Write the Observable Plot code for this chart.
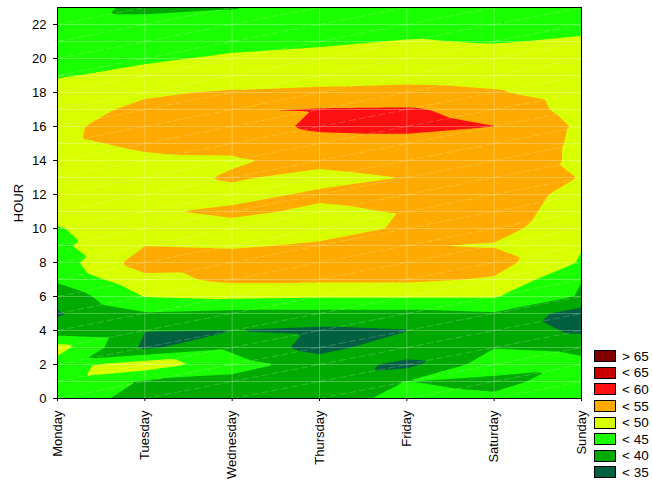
<!DOCTYPE html>
<html><head><meta charset="utf-8">
<script src="https://cdn.jsdelivr.net/npm/d3@7"></script>
<script src="https://cdn.jsdelivr.net/npm/@observablehq/plot@0.6"></script>
<style>
body{margin:0;background:#fff;font-family:"Liberation Sans",Arial,sans-serif;}
#wrap{position:relative;width:652px;height:481px;overflow:hidden;}
#legend{position:absolute;left:594px;top:348px;}
.row{display:flex;align-items:center;height:16.6px;}
.sw{width:20px;height:10px;border:1px solid #000;}
.lab{margin-left:6px;font-size:13.5px;line-height:13px;color:#000;white-space:pre;}
</style></head><body><div id="wrap"></div>
<script>
const days = ["Monday","Tuesday","Wednesday","Thursday","Friday","Saturday","Sunday"];
const hours = [0,1,2,3,4,5,6,7,8,9,10,11,12,13,14,15,16,17,18,19,20,21,22,23];
const yTicks = [0,2,4,6,8,10,12,14,16,18,20,22];

const monday    = [43, 43.5, 43, 47, 37, 34.5, 36.5, 41, 42.5, 44, 44.7, 46.5, 47.5, 48, 48.5, 49.4, 49.3, 48.5, 46.5, 44.7, 44, 43.5, 43, 44];
const tuesday   = [38, 39.5, 48, 34, 35.1, 39.5, 45.2, 48.5, 52.5, 49.9, 48, 49.6, 48, 48.5, 49.5, 50.5, 51.5, 50.8, 49.5, 46, 44.5, 43.5, 43, 38];
const wednesday = [38, 38.5, 42, 39, 34.9, 38.5, 46, 51, 52, 49.5, 49, 50.6, 49, 50.4, 49.6, 51, 52.5, 54.9, 50.4, 48, 45.5, 44, 43.5, 39.5];
const thursday  = [37, 37.5, 38, 33, 34, 38.5, 45.5, 51, 52, 50.5, 48.5, 49.5, 50.5, 49, 51, 53, 56, 55.3, 51, 48, 46, 44.5, 43.5, 43];
const friday    = [42, 40.1, 33.5, 38.5, 34.8, 38.5, 45.5, 51, 52, 50.2, 50.5, 50.2, 51, 50.1, 52, 53, 56.5, 55.5, 51.5, 48.3, 46.5, 45.2, 43.5, 43.5];
const saturday  = [41, 38.5, 43, 39.8, 38, 39.5, 45.5, 49.5, 52, 49.7, 51.5, 52, 52.5, 53, 53.5, 54, 55.05, 53.5, 50.5, 48, 46.5, 44.8, 44, 43.5];
const sunday    = [42, 42.5, 41, 39, 34, 32.5, 39.5, 40.1, 44.5, 45.3, 47, 48, 48.5, 49.8, 49, 49, 49.2, 48, 47.5, 46.5, 46, 45.4, 44.2, 43.5];
const series = [monday, tuesday, wednesday, thursday, friday, saturday, sunday];

const bandThresholds = [35, 40, 45, 50, 55, 60, 65];
const bandColors = ["#006040", "#00aa00", "#1aff00", "#d8ff00", "#ffaa00", "#ff1010", "#c80000", "#800000"];
const bandLabels = ["< 35", "< 40", "< 45", "< 50", "< 55", "< 60", "< 65", "> 65"];

const dayIdx = days.map((d, i) => i);
const points = [];
series.forEach((vals, di) => vals.forEach((v, hi) => points.push({day: di, hour: hours[hi], hi, value: v})));
const diag = points.filter(p => p.day < days.length - 1 && p.hi < hours.length - 1);

// linear interpolation over triangles whose diagonal runs from (day, hour) to (day+1, hour+1)
function triInterpolate(index, w, h, X, Y, V) {
  const nd = days.length, nh = hours.length;
  const grid = Array.from({length: nd}, () => new Array(nh));
  const px = new Array(nd), py = new Array(nh);
  for (const i of index) {
    const p = points[i];
    grid[p.day][p.hi] = V[i];
    px[p.day] = X[i]; py[p.hi] = Y[i];
  }
  const out = new Float64Array(w * h);
  for (let r = 0, k = 0; r < h; r++) {
    let fh = (r + 0.5 - py[0]) / (py[nh - 1] - py[0]) * (nh - 1);
    fh = Math.max(0, Math.min(nh - 1, fh));
    const hi = Math.min(nh - 2, Math.floor(fh)); const s = fh - hi;
    for (let c = 0; c < w; c++, k++) {
      let fd = (c + 0.5 - px[0]) / (px[nd - 1] - px[0]) * (nd - 1);
      fd = Math.max(0, Math.min(nd - 1, fd));
      const di = Math.min(nd - 2, Math.floor(fd)); const t = fd - di;
      const v00 = grid[di][hi], v10 = grid[di + 1][hi], v01 = grid[di][hi + 1], v11 = grid[di + 1][hi + 1];
      out[k] = t >= s ? v00 + t * (v10 - v00) + s * (v11 - v10)
                      : v00 + s * (v01 - v00) + t * (v11 - v01);
    }
  }
  return out;
}

const mesh = {stroke: "white", strokeOpacity: 0.28, strokeWidth: 1};

const chart = Plot.plot({
  width: 652, height: 481,
  marginLeft: 57, marginRight: 71, marginTop: 7, marginBottom: 83,
  style: {fontFamily: "'Liberation Sans', Arial, sans-serif", fontSize: "13px", color: "#000", background: "#fff"},
  x: {domain: [0, 6]},
  y: {domain: [0, 23]},
  color: {type: "threshold", domain: bandThresholds, range: bandColors},
  marks: [
    Plot.contour(points, {x: "day", y: "hour", fill: "value", thresholds: [20, ...bandThresholds],
      interpolate: triInterpolate, x1: 0, x2: 6, y1: 0, y2: 23, blur: 0}),
    Plot.ruleY(hours, mesh),
    Plot.ruleX(dayIdx, mesh),
    Plot.link(diag, {x1: "day", y1: "hour", x2: d => d.day + 1, y2: d => d.hour + 1, ...mesh, strokeOpacity: 0.2, strokeDasharray: "7,3"}),
    Plot.axisX(dayIdx, {tickFormat: i => days[i], tickRotate: -90, tickSize: 3, tickPadding: 9, label: null}),
    Plot.axisY(yTicks, {tickSize: 4, tickPadding: 7, label: "HOUR", labelAnchor: "center", labelArrow: "none", labelOffset: 44}),
    Plot.frame({stroke: "#000"})
  ]
});
const wrap = document.getElementById("wrap");
wrap.appendChild(chart);

const legend = document.createElement("div");
legend.id = "legend";
bandLabels.slice().reverse().forEach((lab, i) => {
  const color = bandColors[bandColors.length - 1 - i];
  const row = document.createElement("div"); row.className = "row";
  const sw = document.createElement("div"); sw.className = "sw"; sw.style.background = color;
  const tx = document.createElement("span"); tx.className = "lab"; tx.textContent = lab;
  row.appendChild(sw); row.appendChild(tx); legend.appendChild(row);
});
wrap.appendChild(legend);
</script></body></html>
